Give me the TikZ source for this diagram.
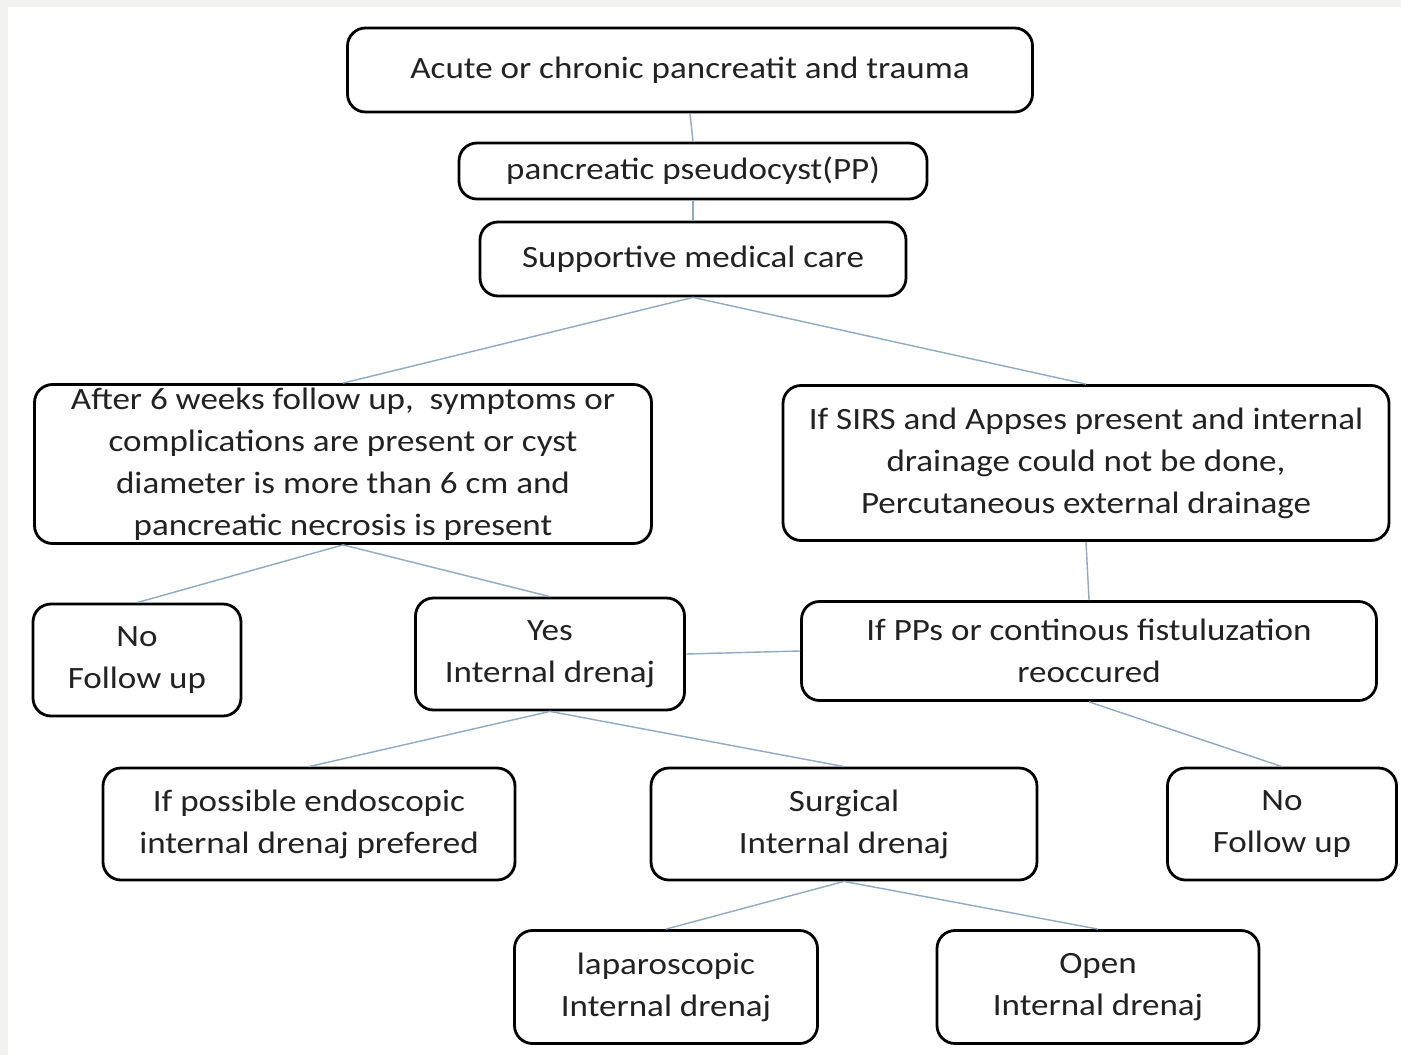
\documentclass[tikz,border=0pt]{standalone}
\usepackage{fontspec}
\setmainfont[FakeStretch=1.13]{Carlito}
\usepackage{tikz}
\usetikzlibrary{positioning}
\definecolor{linkblue}{HTML}{8DAAC6}
\definecolor{txtgray}{HTML}{222222}
\definecolor{framegray}{HTML}{F2F2F0}

\begin{document}
\begin{tikzpicture}[x=1pt,y=-1pt,
box/.style={draw,line width=2.8pt,rounded corners=18pt,align=center,text=txtgray,
  font=\fontsize{31}{42}\selectfont,inner sep=0pt}]
\fill[framegray] (0,0) rectangle (1401,1055);
\fill[white] (8,7) rectangle (1401,1055);
\useasboundingbox (0,0) rectangle (1401,1055);
\node[box,minimum width=685pt,minimum height=84pt] (A) at (690,70) {Acute or chronic pancreatit and trauma};
\node[box,minimum width=468pt,minimum height=56pt] (B) at (693,171) {pancreatic pseudocyst(PP)};
\node[box,minimum width=426pt,minimum height=74pt] (C) at (693,259) {Supportive medical care};
\node[box,minimum width=617pt,minimum height=159pt] (D) at (343,464) {After 6 weeks follow up,\ \ symptoms or\\complications are present or cyst\\diameter is more than 6 cm and\\pancreatic necrosis is present};
\node[box,minimum width=606pt,minimum height=155pt] (E) at (1086,463) {If SIRS and Appses present and internal\\drainage could not be done,\\Percutaneous external drainage};
\node[box,minimum width=208pt,minimum height=112pt] (F) at (137,660) {No\\Follow up};
\node[box,minimum width=269pt,minimum height=112pt] (G) at (550,654) {Yes\\Internal drenaj};
\node[box,minimum width=575pt,minimum height=99pt] (H) at (1089,651) {If PPs or continous fistuluzation\\reoccured};
\node[box,minimum width=412pt,minimum height=112pt] (I) at (309,824) {If possible endoscopic\\internal drenaj prefered};
\node[box,minimum width=386pt,minimum height=112pt] (J) at (844,824) {Surgical\\Internal drenaj};
\node[box,minimum width=229pt,minimum height=112pt] (K) at (1282,824) {No\\Follow up};
\node[box,minimum width=303pt,minimum height=113pt] (L) at (666,987) {laparoscopic\\Internal drenaj};
\node[box,minimum width=322pt,minimum height=113pt] (M) at (1098,987) {Open\\Internal drenaj};
\path[draw=linkblue,line width=1.4pt]
(A.south) edge (B.north)
(B.south) edge (C.north)
(C.south) edge (D.north)
(C.south) edge (E.north)
(D.south) edge (F.north)
(D.south) edge (G.north)
(E.south) edge (H.north)
(G.east) edge (H.west)
(H.south) edge (K.north)
(G.south) edge (I.north)
(G.south) edge (J.north)
(J.south) edge (L.north)
(J.south) edge (M.north);
\end{tikzpicture}
\end{document}
